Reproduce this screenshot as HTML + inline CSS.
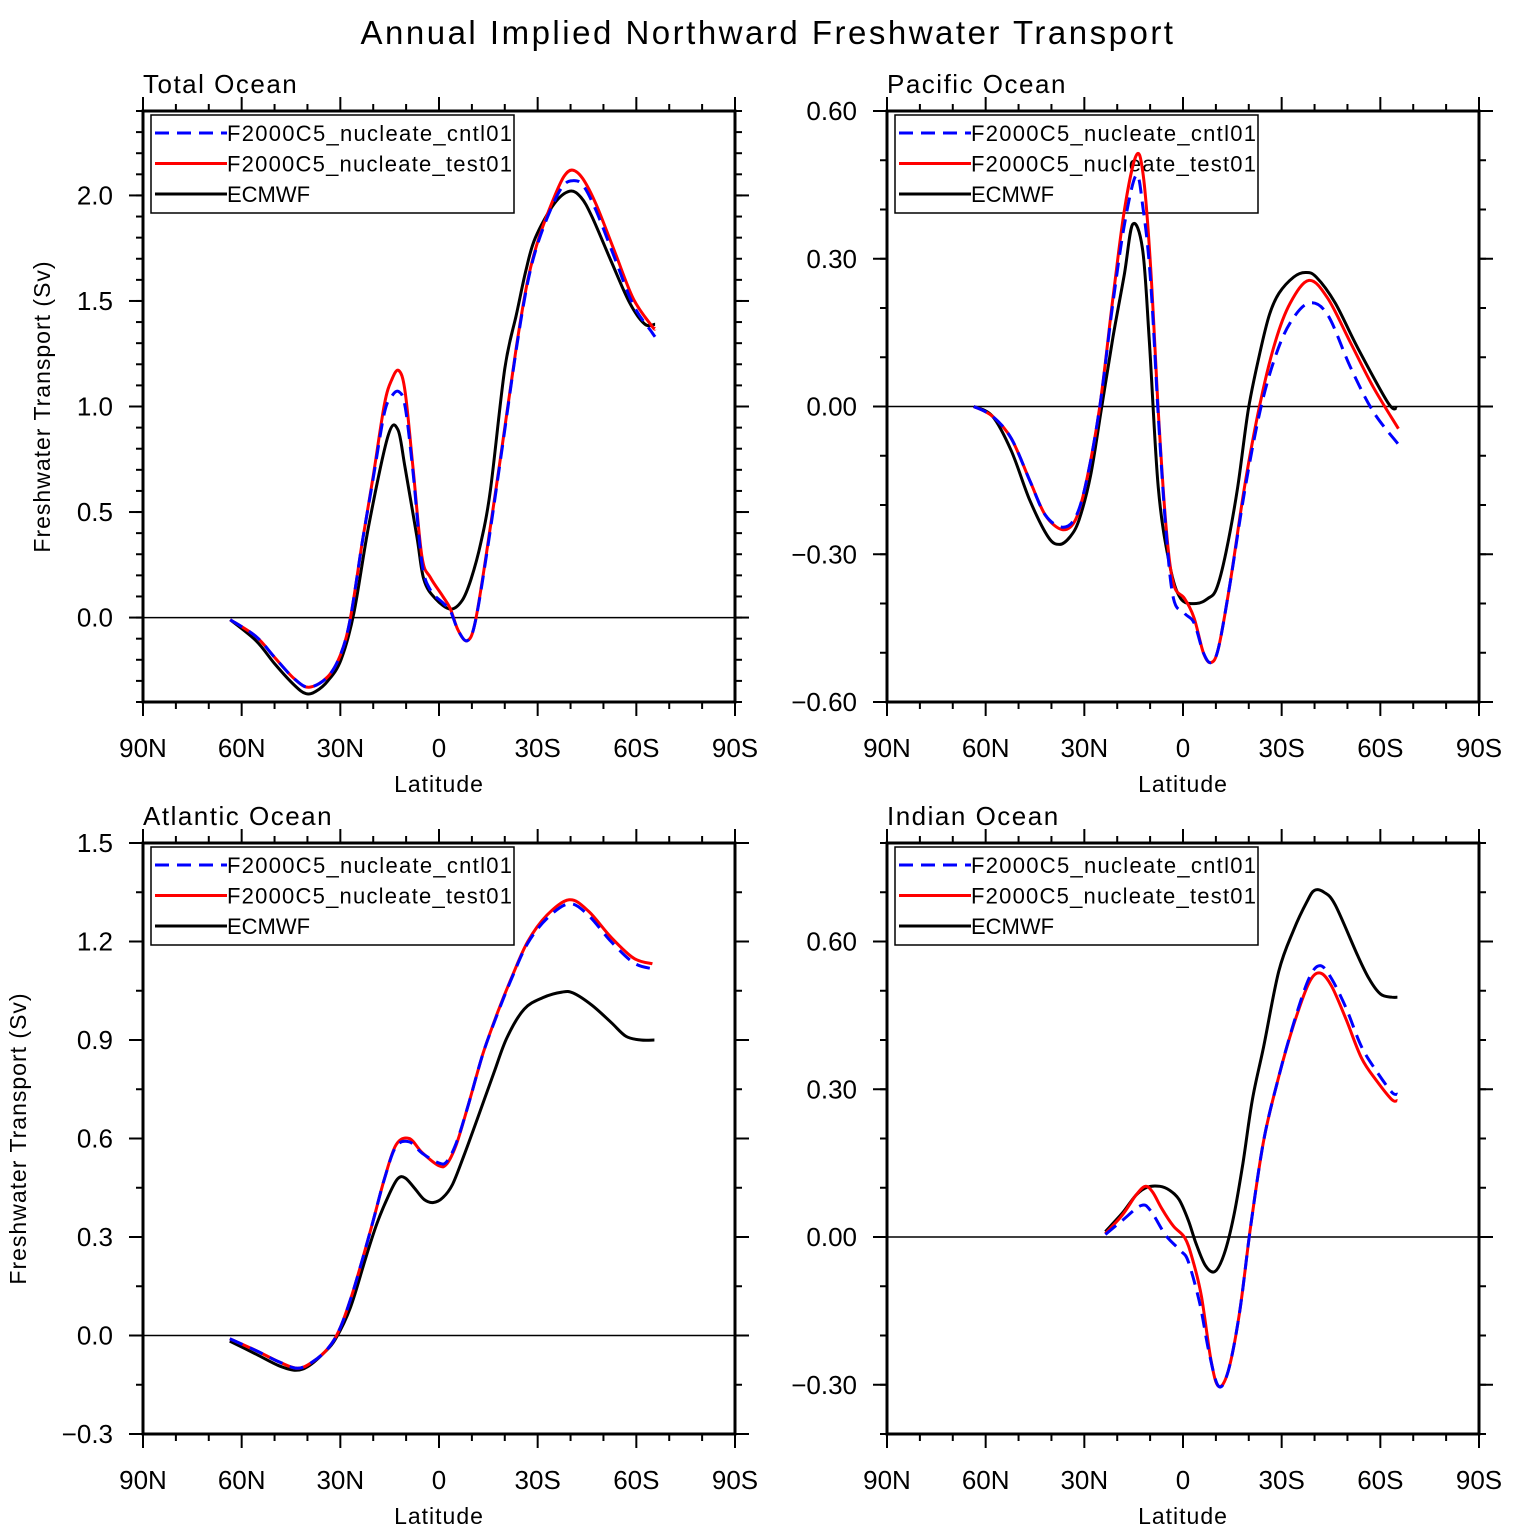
<!DOCTYPE html>
<html><head><meta charset="utf-8"><style>
html,body{margin:0;padding:0;background:#fff;}
svg{display:block;font-family:"Liberation Sans",sans-serif;}
</style></head><body>
<svg id="chart" width="1535" height="1535" viewBox="0 0 1535 1535" xmlns="http://www.w3.org/2000/svg">
<rect width="1535" height="1535" fill="#fff"/>
<text x="768" y="44" text-anchor="middle" font-size="33" letter-spacing="2.5" fill="#000">Annual Implied Northward Freshwater Transport</text>
</svg>
<script>
// ---- data (lat: + = N, - = S) ----
const totalTestLat = [63.5,55.6,49.9,44,39.5,33.8,29.8,26.9,23.4,20,16.6,14.3,12.2,10.3,7.9,5.2,2.6,-1.2,-3.5,-5.8,-8.5,-10.9,-14.3,-19,-23.6,-27,-30.4,-35,-38,-40.6,-43.7,-47.7,-53.5,-59.1,-64.8,-65.7];
const totalTest = [-0.01,-0.09,-0.19,-0.29,-0.33,-0.28,-0.17,0.00,0.35,0.67,1.01,1.13,1.17,1.07,0.71,0.29,0.19,0.10,0.04,-0.06,-0.11,-0.03,0.29,0.79,1.29,1.60,1.80,1.99,2.09,2.12,2.08,1.96,1.73,1.51,1.38,1.37];
const totalCntl = [-0.01,-0.09,-0.19,-0.29,-0.33,-0.28,-0.17,0.00,0.35,0.66,0.97,1.05,1.07,1.00,0.69,0.26,0.13,0.07,0.03,-0.06,-0.11,-0.03,0.28,0.78,1.28,1.59,1.79,1.97,2.05,2.07,2.05,1.93,1.70,1.48,1.35,1.33];
const totalObsLat = [63.5,55.6,49.9,44,40.5,37.5,33.8,29.8,25.9,21.3,15.5,12.5,10.3,6.7,4.6,1.1,-3.5,-7,-9.7,-12.8,-15.6,-20,-23.6,-26.5,-29.3,-35,-39.7,-43.2,-46.5,-52.3,-58,-62.6,-65.7];
const totalObs = [-0.01,-0.11,-0.22,-0.32,-0.36,-0.35,-0.30,-0.20,0.02,0.44,0.86,0.89,0.71,0.38,0.18,0.09,0.04,0.08,0.18,0.36,0.60,1.18,1.44,1.65,1.80,1.96,2.02,1.99,1.90,1.69,1.49,1.39,1.39];

const pacTestLat = [63.6,57.9,52.2,46.6,41.9,36.7,32.7,29.3,25.3,21.3,17.8,14.2,12.1,9.9,7.5,5.2,2.9,-0.5,-3.4,-6.2,-8.5,-10.8,-14.3,-18.8,-23.4,-28,-32.6,-38.3,-44,-50.9,-57.8,-65.5];
const pacTest = [0,-0.02,-0.065,-0.15,-0.22,-0.25,-0.23,-0.15,0.0,0.22,0.40,0.51,0.47,0.29,-0.01,-0.24,-0.36,-0.39,-0.43,-0.50,-0.52,-0.49,-0.36,-0.16,0.005,0.13,0.21,0.256,0.22,0.13,0.04,-0.045];
const pacCntl = [0,-0.02,-0.065,-0.15,-0.22,-0.245,-0.225,-0.15,0.0,0.21,0.37,0.47,0.40,0.26,-0.02,-0.25,-0.39,-0.42,-0.44,-0.50,-0.52,-0.49,-0.36,-0.17,-0.01,0.10,0.17,0.21,0.186,0.08,-0.01,-0.077];
const pacObsLat = [63.6,57.9,52.2,46.6,41,37.5,34.4,31.6,28.1,24.7,21.3,17.8,15.3,12.3,10.3,7.5,4.1,0.7,-4,-7.5,-10.2,-13.1,-16.6,-19.9,-23.4,-26.3,-29.2,-33.7,-37.2,-40.5,-46.3,-53.2,-62.4,-65.1];
const pacObs = [0,-0.02,-0.09,-0.19,-0.265,-0.28,-0.265,-0.23,-0.14,0.0,0.14,0.27,0.37,0.32,0.14,-0.165,-0.32,-0.39,-0.40,-0.39,-0.37,-0.295,-0.165,-0.005,0.11,0.187,0.23,0.263,0.272,0.263,0.21,0.118,0.007,-0.003];

const atlTestLat = [63.6,55.6,48.7,43,38.4,33.8,30.3,26.9,23.5,20,16.6,13.1,9.1,5.1,0,-2.4,-5.2,-8.7,-13.3,-17.8,-22.4,-27,-32.8,-39.6,-45.4,-52.3,-59.2,-64.9];
const atlTest = [-0.01,-0.046,-0.08,-0.10,-0.08,-0.04,0.017,0.11,0.224,0.35,0.477,0.58,0.60,0.557,0.517,0.523,0.58,0.695,0.856,0.983,1.098,1.20,1.28,1.327,1.293,1.213,1.149,1.132];
const atlCntl = [-0.01,-0.046,-0.08,-0.10,-0.08,-0.04,0.017,0.11,0.224,0.35,0.477,0.575,0.59,0.555,0.525,0.53,0.585,0.695,0.856,0.98,1.095,1.195,1.27,1.315,1.28,1.20,1.135,1.117];
const atlObsLat = [63.6,55.6,48.7,43.5,39.5,34.9,31.5,26.9,22.3,18.9,15.4,12.6,10.3,7.4,4.5,1.7,-1.2,-4.1,-7.5,-12.1,-16.7,-20.7,-25.9,-31.6,-37.4,-40.8,-46.5,-52.3,-56.9,-61.4,-65.5];
const atlObs = [-0.017,-0.057,-0.092,-0.106,-0.092,-0.052,-0.011,0.086,0.236,0.34,0.425,0.477,0.48,0.448,0.414,0.405,0.42,0.46,0.546,0.672,0.80,0.908,0.994,1.029,1.046,1.043,1.006,0.954,0.911,0.90,0.90];

const indTestLat = [23.6,18.4,14.4,11.5,9.2,6.4,2.9,-0.5,-2.8,-5.6,-8.5,-10.8,-13.7,-17.1,-20.5,-24.5,-29.1,-33.7,-38.3,-41.7,-45.2,-49.7,-54.3,-58.9,-63.5,-65.2];
const indTest = [0.007,0.045,0.084,0.103,0.091,0.057,0.022,-0.001,-0.043,-0.12,-0.25,-0.303,-0.273,-0.158,0.018,0.195,0.325,0.432,0.516,0.536,0.509,0.44,0.363,0.317,0.279,0.277];
const indCntlLat = [23.6,18.4,12.7,9.8,5.2,0.7,-1.6,-5.1,-7.9,-10.8,-13.7,-17.1,-20.5,-24.5,-29.1,-33.7,-38.3,-41.7,-45.2,-49.7,-54.3,-58.9,-63.5,-65.2];
const indCntl = [0.005,0.034,0.064,0.053,0.003,-0.028,-0.05,-0.135,-0.234,-0.303,-0.273,-0.158,0.018,0.195,0.325,0.435,0.525,0.551,0.524,0.463,0.386,0.336,0.294,0.29];
const indObsLat = [23.6,18.4,14.4,11,7,4.1,1.2,-1.6,-3.9,-6.8,-9.7,-12.5,-15.4,-18.2,-21.1,-24.5,-29.1,-33.7,-37.7,-40,-42.9,-46.3,-53.2,-56.6,-60.1,-63.5,-65.2];
const indObs = [0.011,0.049,0.084,0.101,0.103,0.095,0.076,0.034,-0.012,-0.058,-0.07,-0.035,0.041,0.149,0.279,0.386,0.539,0.624,0.681,0.704,0.70,0.674,0.57,0.524,0.493,0.487,0.487];

const xTickLabels = ["90N","60N","30N","0","30S","60S","90S"];
const legendLabels = ["F2000C5_nucleate_cntl01","F2000C5_nucleate_test01","ECMWF"];

const svg = document.getElementById('chart');
const NS = 'http://www.w3.org/2000/svg';
function mk(tag, attrs, parent){
  const e = document.createElementNS(NS, tag);
  for (const k in attrs) e.setAttribute(k, attrs[k]);
  (parent||svg).appendChild(e);
  return e;
}
function smoothPath(pts){
  let d = 'M' + pts[0][0].toFixed(1) + ',' + pts[0][1].toFixed(1);
  for (let i = 0; i < pts.length - 1; i++) {
    const p0 = pts[Math.max(0,i-1)], p1 = pts[i], p2 = pts[i+1], p3 = pts[Math.min(pts.length-1,i+2)];
    const c1x = p1[0] + (p2[0]-p0[0])/6, c1y = p1[1] + (p2[1]-p0[1])/6;
    const c2x = p2[0] - (p3[0]-p1[0])/6, c2y = p2[1] - (p3[1]-p1[1])/6;
    d += ' C' + c1x.toFixed(1)+','+c1y.toFixed(1)+' '+c2x.toFixed(1)+','+c2y.toFixed(1)+' '+p2[0].toFixed(1)+','+p2[1].toFixed(1);
  }
  return d;
}

const panels = [
  {key:'total', title:'Total Ocean', x0:143, y0:111, ymin:-0.4, ymax:2.4, major:[0,0.5,1.0,1.5,2.0], minorStep:0.1, dec:1, ytitle:true, ytx:42,
   series:[[totalTestLat,totalCntl],[totalTestLat,totalTest],[totalObsLat,totalObs]]},
  {key:'pacific', title:'Pacific Ocean', x0:887, y0:111, ymin:-0.6, ymax:0.6, major:[-0.6,-0.3,0,0.3,0.6], minorStep:0.1, dec:2, ytitle:false,
   series:[[pacTestLat,pacCntl],[pacTestLat,pacTest],[pacObsLat,pacObs]]},
  {key:'atlantic', title:'Atlantic Ocean', x0:143, y0:843, ymin:-0.3, ymax:1.5, major:[-0.3,0,0.3,0.6,0.9,1.2,1.5], minorStep:0.15, dec:1, ytitle:true, ytx:18,
   series:[[atlTestLat,atlCntl],[atlTestLat,atlTest],[atlObsLat,atlObs]]},
  {key:'indian', title:'Indian Ocean', x0:887, y0:843, ymin:-0.4, ymax:0.8, major:[-0.3,0,0.3,0.6], minorStep:0.1, dec:2, ytitle:false,
   series:[[indCntlLat,indCntl],[indTestLat,indTest],[indObsLat,indObs]]}
];
const W = 592, H = 591;
const colors = ['#0000ff','#ff0000','#000000'];
const seriesNames = ['cntl01-line','test01-line','ecmwf-line'];
const drawOrder = [2,1,0];

panels.forEach(p => {
  const g = mk('g', {});
  
  
  const xs = lat => p.x0 + (90 - lat) / 180 * W;
  const ys = v => p.y0 + (p.ymax - v) / (p.ymax - p.ymin) * H;

  const zl = mk('line', {x1:p.x0, x2:p.x0+W, y1:ys(0), y2:ys(0), stroke:'#000', 'stroke-width':1.5}, g);
  
  

  // legend (transparent box)
  const lg = mk('g', {}, g);
  
  
  mk('rect', {x:p.x0+8, y:p.y0+4, width:363, height:98, fill:'none', stroke:'#000', 'stroke-width':1.5}, lg);
  legendLabels.forEach((lab, i) => {
    const y = p.y0 + 22 + i*30.5;
    const ln = mk('line', {x1:p.x0+12, x2:p.x0+84, y1:y, y2:y, stroke:colors[i], 'stroke-width':3}, lg);
    if (i === 0) ln.setAttribute('stroke-dasharray', '14 8');
    
    
    const t = mk('text', {x:p.x0+84, y:y+8, 'font-size':22, fill:'#000'}, lg);
    if (i < 2) t.setAttribute('textLength', 285);
    t.textContent = lab;
    
    
  });

  drawOrder.forEach(i => {
    const s = p.series[i];
    const pts = s[0].map((lat, j) => [xs(lat), ys(s[1][j])]);
    const pl = mk('path', {d:smoothPath(pts), fill:'none', stroke:colors[i], 'stroke-width':3, 'stroke-linejoin':'round'}, g);
    if (i === 0) pl.setAttribute('stroke-dasharray', '14 8');
    
    
  });

  const fr = mk('rect', {x:p.x0, y:p.y0, width:W, height:H, fill:'none', stroke:'#000', 'stroke-width':3}, g);
  
  

  for (let lat = 90; lat >= -90; lat -= 10) {
    const x = xs(lat);
    const len = (lat % 30 === 0) ? 14 : 7;
    mk('line', {x1:x, x2:x, y1:p.y0+H, y2:p.y0+H+len, stroke:'#000', 'stroke-width':2}, g);
    mk('line', {x1:x, x2:x, y1:p.y0, y2:p.y0-len, stroke:'#000', 'stroke-width':2}, g);
  }
  xTickLabels.forEach((lab, i) => {
    const t = mk('text', {x:xs(90 - i*30), y:p.y0+H+55, 'text-anchor':'middle', 'font-size':26, fill:'#000'}, g);
    t.textContent = lab;
    
    
  });
  const xt = mk('text', {x:p.x0+W/2, y:p.y0+H+90, 'text-anchor':'middle', 'font-size':23, 'letter-spacing':1, fill:'#000'}, g);
  xt.textContent = 'Latitude';
  
  

  const nMinor = Math.round((p.ymax - p.ymin) / p.minorStep);
  for (let k = 0; k <= nMinor; k++) {
    const y = ys(p.ymin + k * p.minorStep);
    mk('line', {x1:p.x0, x2:p.x0-7, y1:y, y2:y, stroke:'#000', 'stroke-width':2}, g);
    mk('line', {x1:p.x0+W, x2:p.x0+W+7, y1:y, y2:y, stroke:'#000', 'stroke-width':2}, g);
  }
  p.major.forEach(v => {
    const y = ys(v);
    mk('line', {x1:p.x0, x2:p.x0-14, y1:y, y2:y, stroke:'#000', 'stroke-width':2}, g);
    mk('line', {x1:p.x0+W, x2:p.x0+W+14, y1:y, y2:y, stroke:'#000', 'stroke-width':2}, g);
    const t = mk('text', {x:p.x0-30, y:y+9, 'text-anchor':'end', 'font-size':26, fill:'#000'}, g);
    t.textContent = (v < -1e-9 ? '\u2212' : '') + Math.abs(v).toFixed(p.dec);
    
    
  });

  const pt = mk('text', {x:p.x0, y:p.y0-18, 'font-size':26, 'letter-spacing':1.5, fill:'#000'}, g);
  pt.textContent = p.title;
  
  

  if (p.ytitle) {
    const cy = p.y0 + H/2;
    const yt = mk('text', {x:p.ytx, y:cy, 'text-anchor':'middle', 'font-size':23, 'letter-spacing':1, fill:'#000', transform:'rotate(-90 '+(p.ytx)+' '+cy+')', dy:8}, g);
    yt.textContent = 'Freshwater Transport (Sv)';
    
    
  }
});
</script>
</body></html>
